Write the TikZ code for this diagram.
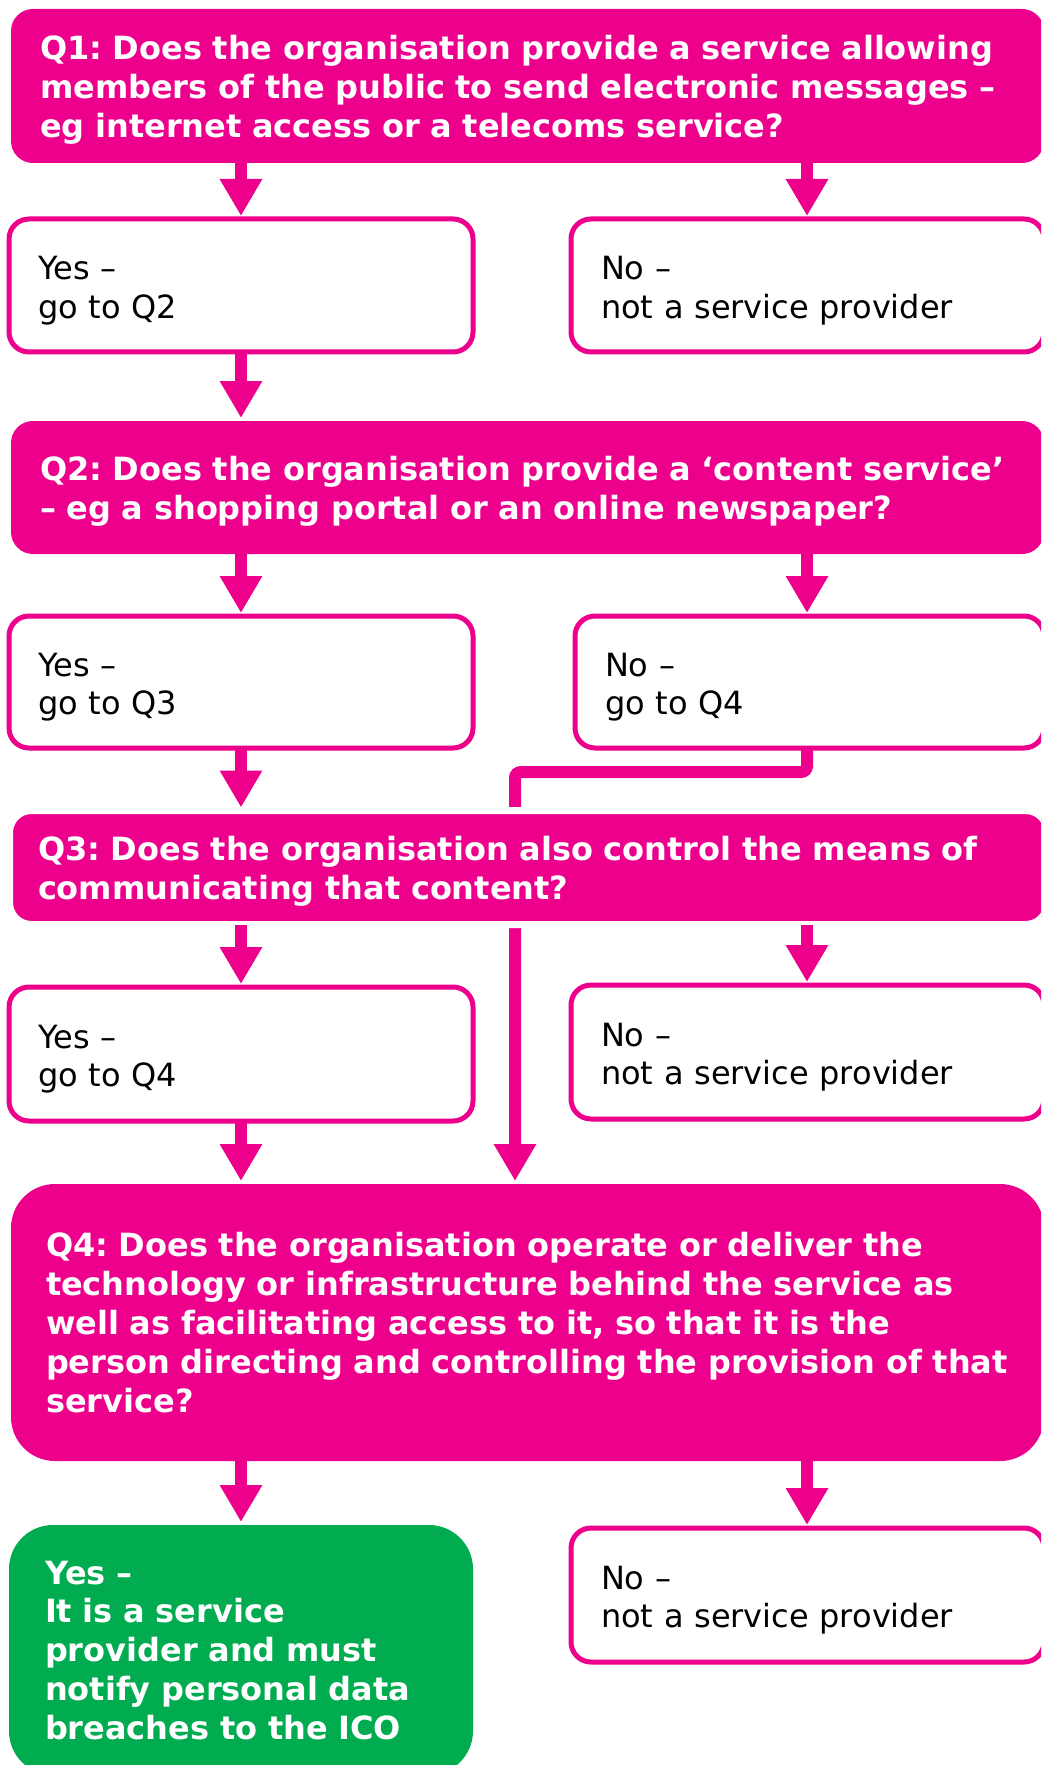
\documentclass[tikz,border=0pt]{standalone}
\usepackage{fontspec}
\setmainfont{DejaVu Sans}
\usepackage{xcolor}
\usetikzlibrary{arrows.meta}
\definecolor{icopink}{HTML}{EC008C}
\definecolor{icogreen}{HTML}{00AC4F}
\newcommand\qfont{\fontsize{16}{19.4}\selectfont\bfseries}
\newcommand\afont{\fontsize{16}{19.2}\selectfont}
\frenchspacing

\begin{document}
\begin{tikzpicture}[x=0.5pt, y=-0.5pt,
    qbox/.style={fill=icopink, text=white, font=\qfont, rounded corners=11pt, anchor=north west,
                 align=left, inner ysep=0pt, outer sep=0pt, text height=15.7pt},
    abox/.style={draw=icopink, line width=2.5pt, fill=white, font=\afont, rounded corners=10pt,
                 anchor=north west, align=left, inner ysep=0pt, inner xsep=14.5pt, text width=203pt,
                 outer sep=0pt, text height=17pt},
    arr/.style={draw=icopink, line width=6pt, -{Triangle[width=20pt,length=18.5pt]}, shorten >=1.5pt}]
    \useasboundingbox (0,0) rectangle (1041,1765);
    \clip (0,0) rectangle (1041,1765);
    \coordinate (rcol) at (807,0);
    \coordinate (mcol) at (515,0);

    \node[qbox, minimum height=77pt, inner xsep=14.5pt, text width=487.5pt] (q1) at (11,9)
        {Q1: Does the organisation provide a service allowing\\members of the public to send electronic messages –\\eg internet access or a telecoms service?};
    \node[abox, minimum height=66.5pt] (yes1) at (9,219) {Yes –\\go to Q2};
    \node[abox, minimum height=66.5pt, inner xsep=15pt, text width=206.5pt] (no1) at (571,219) {No –\\not a service provider};

    \node[qbox, minimum height=66.5pt, inner xsep=14.5pt, text width=487.5pt] (q2) at (11,421)
        {Q2: Does the organisation provide a ‘content service’\\– eg a shopping portal or an online newspaper?};
    \node[abox, minimum height=66pt] (yes2) at (9,616) {Yes –\\go to Q3};
    \node[abox, minimum height=66pt, inner xsep=15pt, text width=204.5pt] (no2) at (575,616) {No –\\go to Q4};

    \node[qbox, minimum height=138.5pt, rounded corners=22pt, inner xsep=17.5pt, text width=481.5pt,
          text height=12.2pt] (q4) at (11,1184)
        {Q4: Does the organisation operate or deliver the\\technology or infrastructure behind the service as\\well as facilitating access to it, so that it is the\\person directing and controlling the provision of that\\service?};

    % no -> Q4 runs behind Q3
    \draw[arr, rounded corners=3pt] (no2.south -| rcol) -- ++(0,24) -| (q4.north -| mcol);

    \node[qbox, draw=white, line width=3.5pt, minimum height=57pt, inner xsep=14.25pt, text width=490.5pt] (q3) at (9.5,810.5)
        {Q3: Does the organisation also control the means of\\communicating that content?};
    \node[abox, minimum height=67pt] (yes3) at (9,987) {Yes –\\go to Q4};
    \node[abox, minimum height=67pt, inner xsep=15pt, text width=206.5pt] (no3) at (571,985) {No –\\not a service provider};

    \node[qbox, fill=icogreen, minimum height=125pt, rounded corners=22pt, inner xsep=18pt, text width=196pt,
          text height=12pt] (yes4) at (9,1525)
        {Yes –\\It is a service\\provider and must\\notify personal data\\breaches to the ICO};
    \node[abox, minimum height=67pt, inner xsep=15pt, text width=206.5pt] (no4) at (571,1528) {No –\\not a service provider};

    \draw[arr] (q1.south -| yes1.north) -- (yes1.north);
    \draw[arr] (q1.south -| rcol) -- (no1.north -| rcol);
    \draw[arr] (yes1.south) -- (q2.north -| yes1.south);
    \draw[arr] (q2.south -| yes2.north) -- (yes2.north);
    \draw[arr] (q2.south -| rcol) -- (no2.north -| rcol);
    \draw[arr] (yes2.south) -- (q3.north -| yes2.south);
    \draw[arr] (q3.south -| yes3.north) -- (yes3.north);
    \draw[arr] (q3.south -| rcol) -- (no3.north -| rcol);
    \draw[arr] (yes3.south) -- (q4.north -| yes3.south);
    \draw[arr] (q4.south -| yes4.north) -- (yes4.north);
    \draw[arr] (q4.south -| rcol) -- (no4.north -| rcol);
\end{tikzpicture}
\end{document}
